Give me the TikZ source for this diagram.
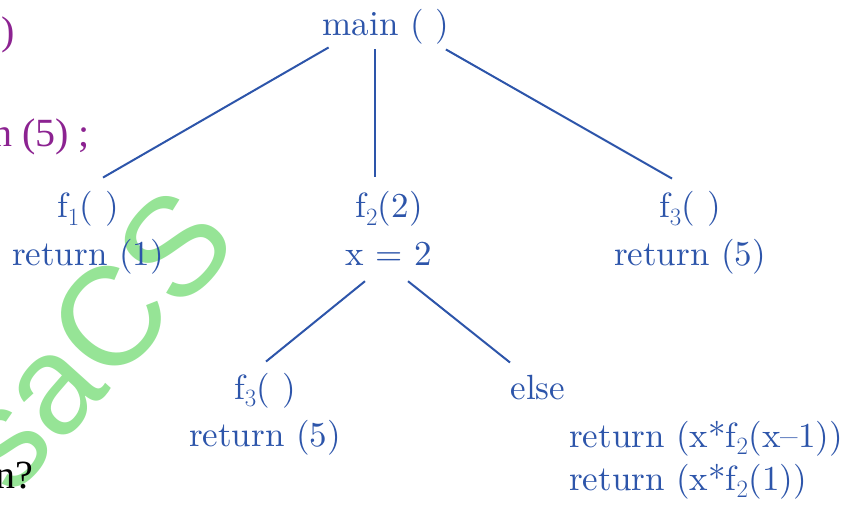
\documentclass[tikz,border=0pt]{standalone}
\usepackage{fontspec}
\usetikzlibrary{positioning}
\newfontfamily\treefont{lmroman10-regular}[Extension=.otf, Ligatures=TeX]
\newfontfamily\slidefont{Liberation Serif}
\newfontfamily\markfont{Liberation Sans}
\definecolor{treeblue}{RGB}{45,85,170}
\definecolor{slidepurple}{RGB}{140,35,145}
\definecolor{markgreen}{RGB}{150,228,150}

\begin{document}
\begin{tikzpicture}[x=1pt, y=-1pt,
  call/.style={text=treeblue, font=\treefont\fontsize{35}{42}\selectfont, inner sep=0pt, anchor=base},
  edge/.style={draw=treeblue, line width=2pt},
  slide/.style={font=\slidefont\fontsize{40}{48}\selectfont, inner sep=0pt, anchor=base east}]
  \useasboundingbox (0,0) rectangle (848,505);
  \clip (0,0) rectangle (848,505);
  % watermark
  \node[text=markgreen, font=\markfont\fontsize{140}{140}\selectfont, inner sep=0pt,
        anchor=base east, rotate=48] (mark) at (242,244) {saCS};
  % question text left of the tree
  \node[slide, text=slidepurple] (q1) at (15,45) {)};
  \node[slide, text=slidepurple] (q2) at (90,147) {n (5) ;};
  \node[slide] (q3) at (33,488) {n?};
  % calls
  \node[call] (main) at (386,36) {main ( )};
  \node[call] (f1) at (88,218) {f$_1$( )};
  \node[call] (r1) at ([yshift=-47pt]f1.base) {return (1)};
  \node[call] (f2) at (389,218) {f$_2$(2)};
  \node[call] (x2) at ([yshift=-47pt]f2.base) {x = 2};
  \node[call] (f3) at (690,218) {f$_3$( )};
  \node[call] (r3) at ([yshift=-47pt]f3.base) {return (5)};
  \node[call] (f3b) at (265,399) {f$_3$( )};
  \node[call] (r3b) at ([yshift=-47pt]f3b.base) {return (5)};
  \node[call] (else) at (538,399) {else};
  \node[call, anchor=base west] (ret1) at (569,447) {return (x*f$_2$(x--1))};
  \node[call, anchor=base west] (ret2) at ([yshift=-43pt]ret1.base west) {return (x*f$_2$(1))};
  % edges
  \draw[edge] ([xshift=6pt, yshift=-2.5pt]main.south west) -- ([xshift=15pt, yshift=14pt]f1.north);
  \draw[edge] ([xshift=-11pt, yshift=-4.5pt]main.south) -- ([xshift=-14pt, yshift=15pt]f2.north);
  \draw[edge] ([xshift=-3.5pt, yshift=-4.5pt]main.south east) -- ([xshift=-18pt, yshift=13pt]f3.north);
  \draw[edge] ([xshift=-24pt, yshift=-16pt]x2.south) -- ([xshift=1pt, yshift=11pt]f3b.north);
  \draw[edge] ([xshift=19pt, yshift=-16pt]x2.south) -- ([xshift=-28pt, yshift=12pt]else.north);
\end{tikzpicture}
\end{document}
